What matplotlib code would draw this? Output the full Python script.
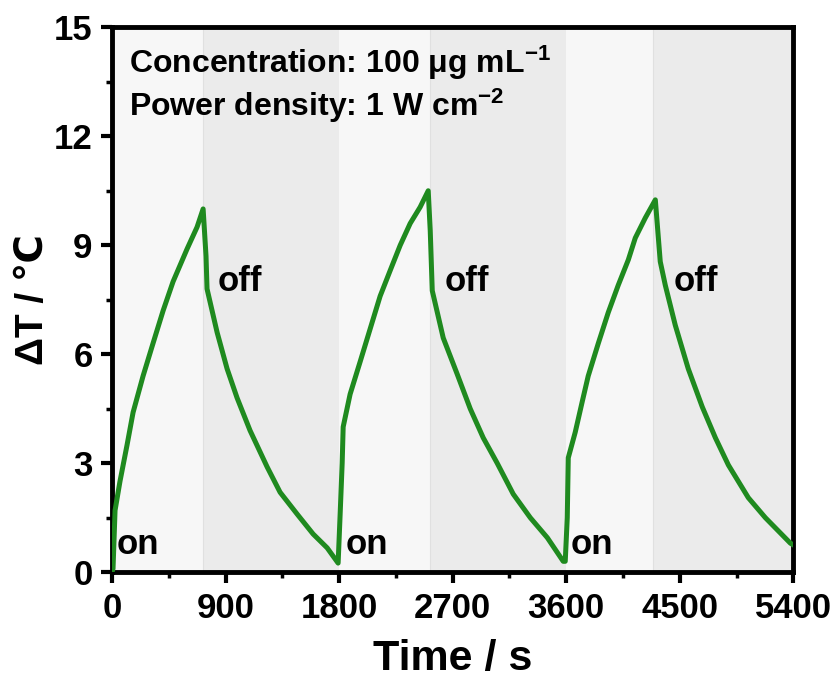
import numpy as np
import matplotlib
matplotlib.use("Agg")
import matplotlib.pyplot as plt

# Datos (tiempo en s, ΔT en °C)
t_cycle1 = [0, 8, 24, 63, 119, 167, 246, 325, 405, 484, 595, 674, 722,
            745, 753, 833, 912, 991, 1094, 1229, 1332, 1467, 1594, 1705, 1792]
dT_cycle1 = [0.0, 0.1, 1.7, 2.5, 3.5, 4.4, 5.4, 6.3, 7.2, 8.0, 8.9, 9.5, 10.0,
             8.7, 7.8, 6.6, 5.6, 4.8, 3.9, 2.9, 2.2, 1.6, 1.05, 0.67, 0.25]

t_cycle2 = [1808, 1824, 1832, 1887, 1967, 2046, 2125, 2204, 2284, 2363, 2442, 2506,
            2522, 2538, 2625, 2736, 2839, 2942, 3053, 3180, 3315, 3450, 3576]
dT_cycle2 = [1.6, 3.0, 4.0, 4.9, 5.8, 6.7, 7.6, 8.3, 9.0, 9.6, 10.05, 10.5,
             9.4, 7.75, 6.45, 5.45, 4.5, 3.7, 3.0, 2.15, 1.5, 0.95, 0.3]

t_cycle3 = [3592, 3608, 3616, 3671, 3727, 3774, 3854, 3933, 4012, 4092, 4147, 4226, 4306,
            4345, 4385, 4464, 4567, 4678, 4782, 4885, 5043, 5178, 5376, 5400]
dT_cycle3 = [0.3, 1.5, 3.15, 3.85, 4.7, 5.4, 6.3, 7.15, 7.9, 8.6, 9.2, 9.75, 10.25,
             8.55, 7.9, 6.8, 5.6, 4.55, 3.7, 2.95, 2.05, 1.5, 0.8, 0.75]

# Intervalos laser on / off
on_start = [0, 1800, 3600]
on_end = [720, 2520, 4290]
off_end = [1800, 3600, 5400]

on_pos = [(35, 0.75), (1855, 0.75), (3635, 0.75)]
off_pos = [(840, 8.0), (2640, 8.0), (4450, 8.0)]

t = np.array(t_cycle1 + t_cycle2 + t_cycle3)
dT = np.array(dT_cycle1 + dT_cycle2 + dT_cycle3)

plt.rcParams['font.family'] = ['Liberation Sans', 'DejaVu Sans']
plt.rcParams['font.weight'] = 'bold'
plt.rcParams['mathtext.fontset'] = 'custom'
plt.rcParams['mathtext.rm'] = 'Liberation Sans:bold'
plt.rcParams['mathtext.bf'] = 'Liberation Sans:bold'
plt.rcParams['mathtext.it'] = 'Liberation Sans:bold'

fig = plt.figure(figsize=(8.36, 6.82), dpi=100)
ax = fig.add_axes([0.134, 0.161, 0.815, 0.799])

# Fondos on (claro) y off (oscuro)
for s, e, f in zip(on_start, on_end, off_end):
    ax.axvspan(s, e, color='#f7f7f7', lw=0, zorder=0)
    ax.axvspan(e, f, color='#ebebeb', lw=0, zorder=0)
    ax.axvline(e, color='#e0e0e0', lw=0.8, zorder=0.5)

ax.plot(t, dT, color='#1f8a1f', lw=3.6, solid_joinstyle='round', zorder=3)

for x, y in on_pos:
    ax.text(x, y, 'on', fontsize=25, fontweight='bold', va='center', ha='left', zorder=4)
for x, y in off_pos:
    ax.text(x, y, 'off', fontsize=25, fontweight='bold', va='center', ha='left', zorder=4)

ax.text(0.025, 0.935, 'Concentration: 100 μg mL$^{-1}$', transform=ax.transAxes,
        fontsize=23, fontweight='bold', va='center')
ax.text(0.025, 0.855, 'Power density: 1 W cm$^{-2}$', transform=ax.transAxes,
        fontsize=23, fontweight='bold', va='center')

ax.set_xlim(0, 5400)
ax.set_ylim(0, 15)
ax.set_xticks([0, 900, 1800, 2700, 3600, 4500, 5400])
ax.set_yticks([0, 3, 6, 9, 12, 15])
ax.set_xticks(np.arange(450, 5400, 900), minor=True)
ax.set_yticks(np.arange(1.5, 15, 3), minor=True)

ax.tick_params(axis='both', which='major', direction='out', length=8, width=3,
               labelsize=25, pad=6)
ax.tick_params(axis='both', which='minor', direction='out', length=4, width=2.5)
for lab in ax.get_xticklabels() + ax.get_yticklabels():
    lab.set_fontweight('bold')

for sp in ax.spines.values():
    sp.set_linewidth(3.5)

ax.set_xlabel('Time / s', fontsize=31, fontweight='bold', labelpad=10)
ax.set_ylabel('ΔT / ℃', fontsize=28, fontweight='bold', labelpad=2,
              family=['Liberation Sans', 'DejaVu Sans'])

fig.savefig('out.png', dpi=100)
